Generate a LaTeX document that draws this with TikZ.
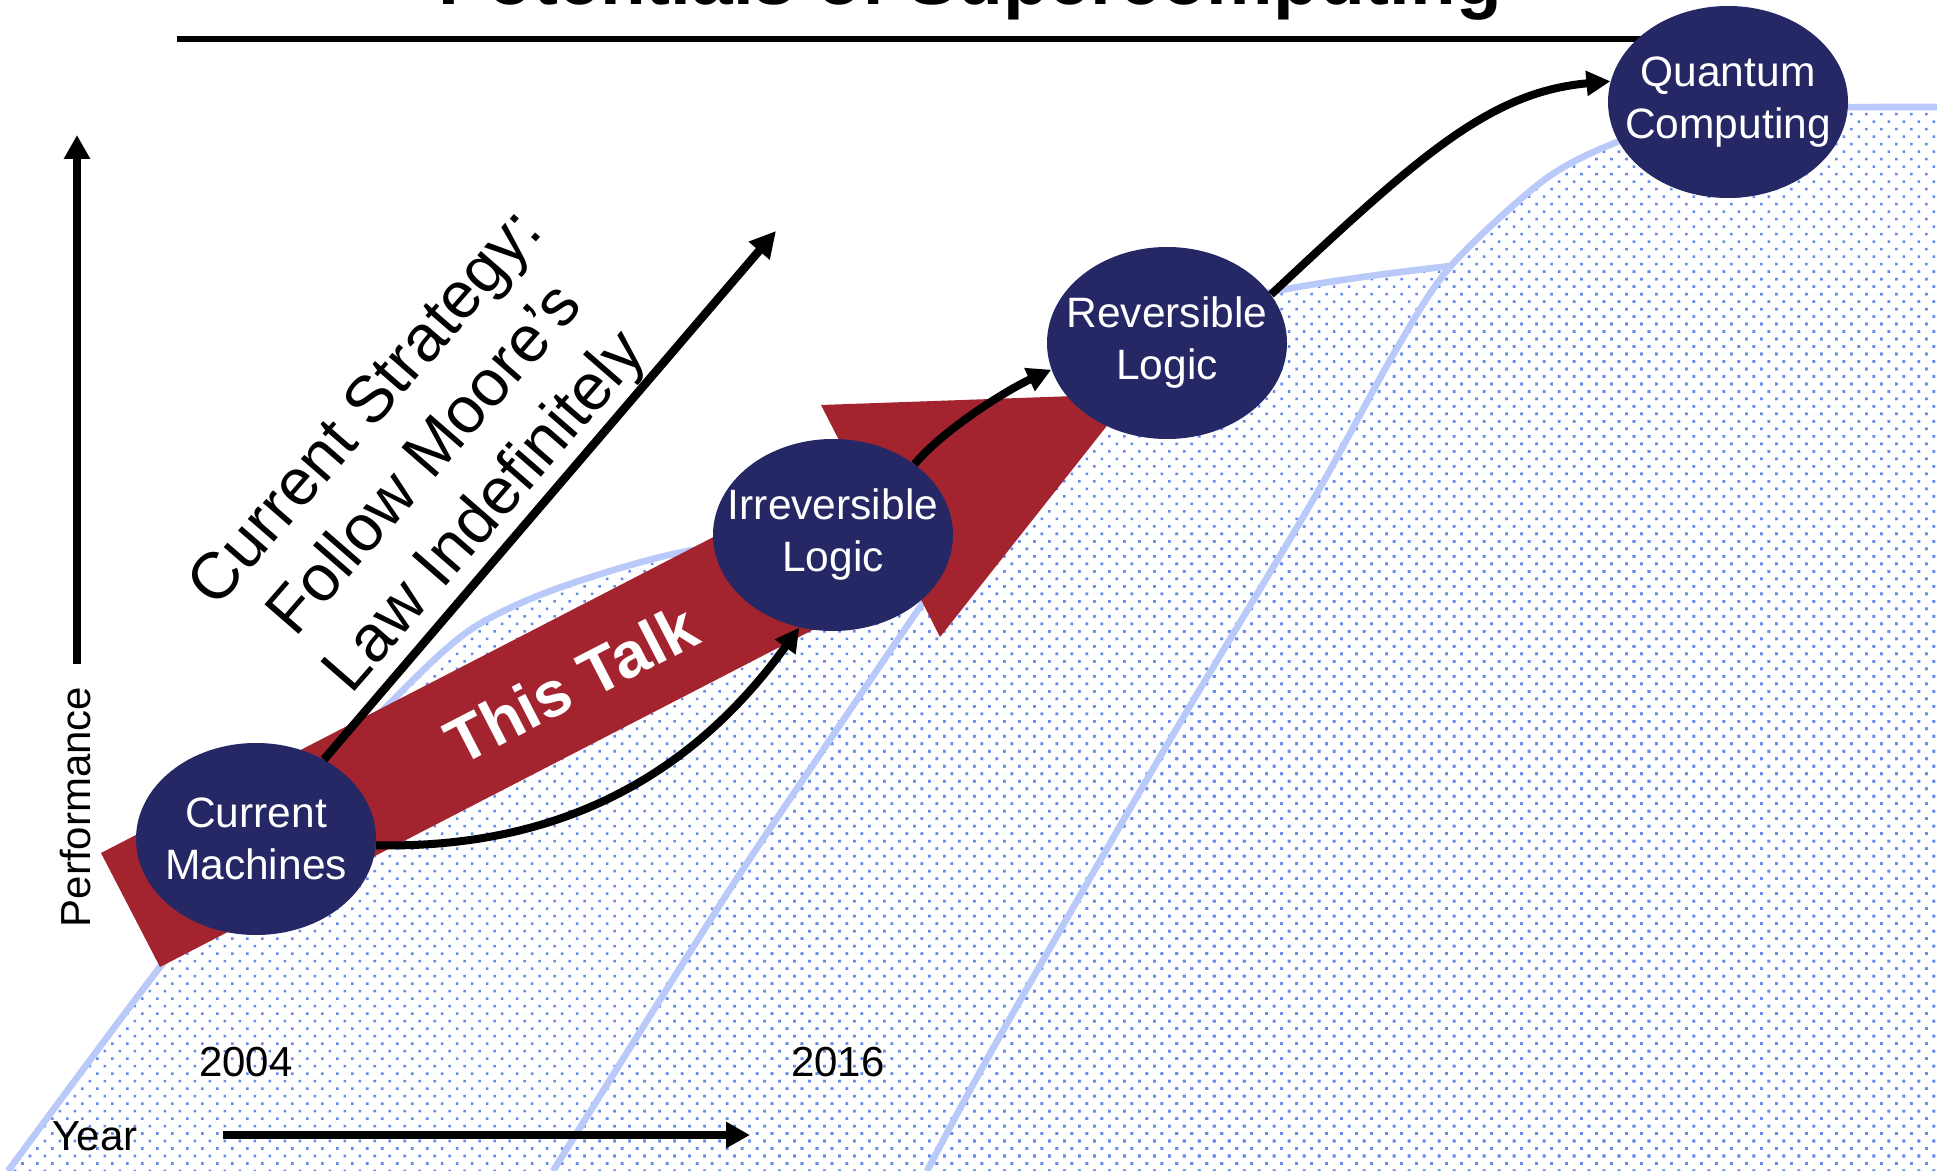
\documentclass[tikz,border=0pt]{standalone}
\usepackage{fontspec}
\setmainfont{Liberation Sans}
\usetikzlibrary{arrows.meta,shapes.geometric,patterns.meta}
\definecolor{navy}{RGB}{38,40,102}
\definecolor{talkred}{RGB}{163,35,47}
\definecolor{curveblue}{RGB}{185,202,250}
\definecolor{dotblue}{RGB}{100,138,238}
\begin{document}
\begin{tikzpicture}[x=0.5pt,y=-0.5pt,
 blob/.style={ellipse, fill=navy, minimum width=120pt, minimum height=96pt, inner sep=0pt},
 blobtxt/.style={text=white, align=center, font=\fontsize{21.25}{26}\selectfont, inner sep=0pt},
 lbl/.style={font=\fontsize{21}{25}\selectfont, inner sep=0pt},
 conn/.style={line width=4pt, -{Triangle[length=12pt,width=12pt]}},
 axisarrow/.style={line width=4.2pt, -{Triangle[length=12pt,width=12.5pt]}},
 curveline/.style={draw=curveblue, line width=3.3pt},
 dotfill/.style={pattern={Dots[distance=5.3pt,radius=0.9pt,angle=45]}, pattern color=dotblue}
]
\useasboundingbox (0,0) rectangle (1937,1171);
\clip (0,0) rectangle (1937,1171);
\fill[white] (0,0) rectangle (1937,1171);

% patterned regions below the three growth curves
\path[dotfill] plot[smooth] coordinates {(8,1171) (160,967) (280,820) (396,697) (470,630) (553,590) (678,553) (820,535) (960,528)} -- (1937,528) -- (1937,1171) -- cycle;
\path[dotfill] plot[smooth] coordinates {(553,1171) (723,900) (823,750) (920,607) (1000,490) (1090,380) (1180,315) (1282,290) (1370,276) (1450,266)} -- (1937,266) -- (1937,1171) -- cycle;
\path[dotfill] plot[smooth] coordinates {(927,1171) (996,1043) (1164,750) (1313,500) (1393,355) (1450,267) (1544,180) (1617,142) (1700,116) (1800,108) (1937,107)} -- (1937,1171) -- cycle;

% curve outlines
\draw[curveline] plot[smooth] coordinates {(8,1171) (160,967) (280,820) (396,697) (470,630) (553,590) (678,553) (820,535) (960,528)};
\draw[curveline] plot[smooth] coordinates {(553,1171) (723,900) (823,750) (920,607) (1000,490) (1090,380) (1180,315) (1282,290) (1370,276) (1450,266)};
\draw[curveline] plot[smooth] coordinates {(927,1171) (996,1043) (1164,750) (1313,500) (1393,355) (1450,267) (1544,180) (1617,142) (1700,116) (1800,108) (1937,107)};

% big red arrow
\fill[talkred] (101,853) -- (852,465.5) -- (821,405) -- (1132,394) -- (940,637) -- (910.8,579.3) -- (160,967) -- cycle;
\node[rotate=27.3, text=white, font=\bfseries\fontsize{32}{38}\selectfont, inner sep=0pt] (talk) at (571,684) {This Talk};

% title
\node[font=\bfseries\fontsize{37.4}{40}\selectfont, anchor=base, inner sep=0pt] (title) at (970,5) {Potentials of Supercomputing};
\draw[line width=3pt] (177,39) -- (1660,39);

% axes
\coordinate (perfbase) at (77,664);
\coordinate (perftip) at (77,135);
\draw[axisarrow] (perfbase) -- (perftip);
\node[lbl, rotate=90] (perf) at (76,807) {Performance};
\coordinate (yearbase) at (223,1135);
\coordinate (yeartip) at (750,1135);
\draw[axisarrow] (yearbase) -- (yeartip);
\node[lbl] (year) at (95,1136) {Year};
\node[lbl] (y2004) at (246,1062) {2004};
\node[lbl] (y2016) at (838,1062) {2016};

% ellipses
\node[blob] (cm) at (256,839) {};
\node[blobtxt] (cmt) at (cm) {Current\\Machines};
\node[blob] (il) at (833,535) {};
\node[blobtxt] (ilt) at (il) {Irreversible\\Logic};
\node[blob] (rl) at (1167,343) {};
\node[blobtxt] (rlt) at (rl) {Reversible\\Logic};
\node[blob] (qc) at (1728,102) {};
\node[blobtxt] (qct) at (qc) {Quantum\\Computing};

% current strategy
\coordinate (strattip) at (776,231);
\draw[line width=4.2pt, -{Triangle[length=13pt,width=13pt]}] (cm) -- (strattip);
\node[rotate=49, align=center, font=\fontsize{32.8}{39.5}\selectfont, inner sep=0pt] (strat) at (428,462) {Current Strategy:\\Follow Moore’s\\Law Indefinitely};

% connectors
\draw[conn] (cm.-3) .. controls (600,850) and (719,738) .. (il.250);
\draw[conn] (il.41) .. controls (945,428) and (1009,389) .. (rl.193);
\draw[conn] (rl.25) .. controls (1418,157) and (1489,92) .. (qc.170);
\end{tikzpicture}
\end{document}
